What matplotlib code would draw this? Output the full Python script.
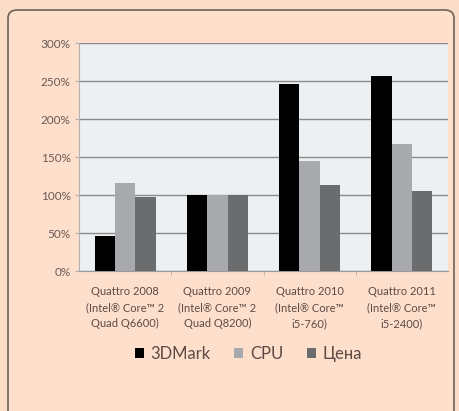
import numpy as np
import matplotlib.pyplot as plt
from matplotlib.patches import FancyBboxPatch
from matplotlib.ticker import FuncFormatter

# данные
kategorii = ['Quattro 2008\n(Intel® Core™ 2\nQuad Q6600)',
             'Quattro 2009\n(Intel® Core™ 2\nQuad Q8200)',
             'Quattro 2010\n(Intel® Core™\ni5-760)',
             'Quattro 2011\n(Intel® Core™\ni5-2400)']
serii = ['3DMark', 'CPU', 'Цена']
mark3d = [46, 100, 246, 256]
cpu = [116, 100, 145, 167]
cena = [97, 100, 113, 105]
yticks = [0, 50, 100, 150, 200, 250, 300]

cores = ['#000000', '#a7a9ac', '#6b6c6e']
fundo = '#fbdcc7'
texto = '#5e4a44'

plt.rcParams['font.family'] = ['Lato', 'DejaVu Sans']

fig = plt.figure(figsize=(4.6, 4.11), dpi=100)
fig.patch.set_facecolor(fundo)

# moldura arredondada
moldura = FancyBboxPatch((8/460, -0.05), 446/460, 1 - 10/411 + 0.05,
                         boxstyle='round,pad=0,rounding_size=0.02',
                         transform=fig.transFigure, facecolor='#fddfcb',
                         edgecolor='#6e6259', linewidth=1.2, zorder=-10)
fig.patches.append(moldura)

ax = fig.add_axes([79/460, 1 - 271/411, 369/460, 228/411], zorder=5)
ax.set_facecolor('#edf0f2')

x = np.arange(len(kategorii))
w = 0.22
for i, (vals, nome) in enumerate(zip([mark3d, cpu, cena], serii)):
    ax.bar(x + (i - 1) * w, vals, w, color=cores[i], label=nome, zorder=3)

ax.set_xlim(-0.5, len(kategorii) - 0.5)
ax.set_ylim(0, 300)
ax.set_yticks(yticks)
ax.yaxis.set_major_formatter(FuncFormatter(lambda v, p: f'{int(v)}%'))
ax.grid(axis='y', color='#8a8a8a', linewidth=1.0, zorder=1)
for s in ['top', 'right']:
    ax.spines[s].set_visible(False)
ax.spines['left'].set_color('#b0b0b0')
ax.spines['bottom'].set_color('#9a9a9a')
ax.tick_params(axis='y', colors='#b0b0b0', labelcolor='#6a5a55', labelsize=8.5,
               length=3, pad=3)
ax.set_xticks(x)
ax.set_xticklabels(kategorii, fontsize=8, color=texto, linespacing=1.55)
ax.tick_params(axis='x', length=0, pad=11)
ax.set_xticks(np.arange(0.5, len(kategorii) - 0.5, 1), minor=True)
ax.tick_params(axis='x', which='minor', length=3, colors='#b0b0b0')

leg = fig.legend(loc='center', bbox_to_anchor=(0.54, 1 - 354/411), ncol=3,
                 frameon=False, fontsize=12, handlelength=0.55, handleheight=0.55,
                 handletextpad=0.4, columnspacing=1.4)
for t in leg.get_texts():
    t.set_color(texto)

plt.savefig('out.png', dpi=100, facecolor=fundo)
